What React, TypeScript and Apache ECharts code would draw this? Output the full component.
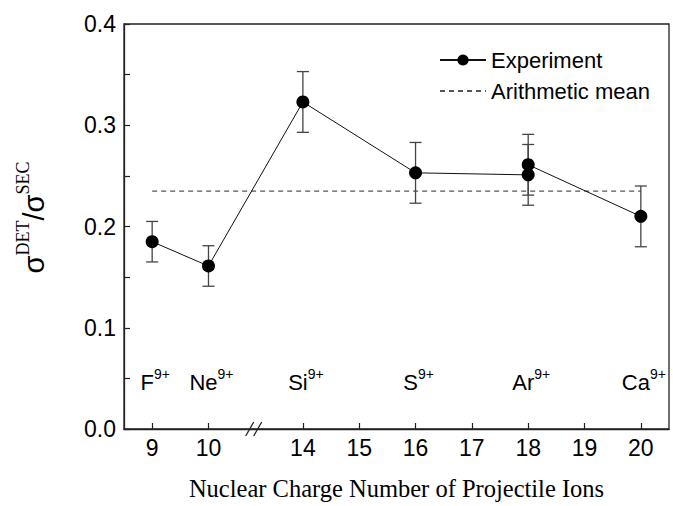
import React, { useEffect, useRef } from "react";
import * as echarts from "echarts";

// Nuclear charge numbers (x) and measured ratios
const ions = ["F", "Ne", "Si", "S", "Ar", "Ar", "Ca"];
const charges = [9, 10, 14, 16, 18, 18, 20];
const ratios = [0.185, 0.161, 0.323, 0.253, 0.251, 0.261, 0.21];
const errors = [0.02, 0.02, 0.03, 0.03, 0.03, 0.03, 0.03];
const meanValue = 0.235;
const meanRange = [9, 20];
const tickCharges = [9, 10, 14, 15, 16, 17, 18, 19, 20];
const labelIons = ["F", "Ne", "Si", "S", "Ar", "Ca"];
const labelCharges = [9, 10, 14, 16, 18, 20];
const labelLevel = 0.048;

// broken-axis mapping: 10 -> 14 squeezed into GAP units
const GAP = 1.676;
const toD = (z: number) => (z <= 10 ? z : z - 14 + 10 + GAP);
const fromD = (d: number) => {
  for (const z of tickCharges) if (Math.abs(toD(z) - d) < 1e-6) return String(z);
  return "";
};

export default function App() {
  const ref = useRef<HTMLDivElement>(null);
  useEffect(() => {
    if (!ref.current) return;
    const chart = echarts.init(ref.current, null, { renderer: "svg" });
    const sans = "Liberation Sans, Arial, sans-serif";
    const serif = "Liberation Serif, Times New Roman, serif";
    const expData = charges.map((z, i) => [toD(z), ratios[i]]);
    const errData = charges.map((z, i) => [toD(z), ratios[i], errors[i]]);
    const labData = labelCharges.map((z, i) => ({ value: [toD(z), labelLevel], name: labelIons[i] }));
    const breakCenter = (toD(10) + toD(14)) / 2;
    chart.setOption({
      animation: false,
      grid: {
        left: 124,
        right: 4,
        top: 24,
        bottom: 74,
        show: true,
        borderColor: "#222",
        borderWidth: 1.3,
      },
      legend: {
        data: [
          { name: "Experiment" },
          { name: "Arithmetic mean", itemStyle: { opacity: 0 } },
        ],
        orient: "vertical",
        left: 434,
        top: 44,
        itemGap: 9,
        itemWidth: 46,
        itemHeight: 14,
        textStyle: { fontFamily: sans, fontSize: 22, color: "#000" },
      },
      xAxis: {
        type: "value",
        min: 8.5,
        max: toD(20) + 0.5,
        name: "Nuclear Charge Number of Projectile Ions",
        nameLocation: "middle",
        nameGap: 47,
        nameTextStyle: { fontFamily: serif, fontSize: 24.5, color: "#000" },
        axisLine: { lineStyle: { color: "#222", width: 1.3 } },
        axisTick: {
          inside: true,
          length: 6,
          customValues: tickCharges.map(toD),
          lineStyle: { color: "#222", width: 1.2 },
        },
        axisLabel: {
          customValues: tickCharges.map(toD),
          formatter: (v: number) => fromD(v),
          fontFamily: sans,
          fontSize: 23,
          color: "#000",
          margin: 7,
        },
        splitLine: { show: false },
      },
      yAxis: {
        type: "value",
        min: 0,
        max: 0.4,
        interval: 0.1,
        name: "{s|σ}{sup|DET}{s|/σ}{sup|SEC}",
        nameLocation: "middle",
        nameGap: 76,
        nameRotate: 90,
        nameTextStyle: {
          padding: [0, 0, 0, 18],
          rich: {
            s: { fontFamily: sans, fontSize: 29, color: "#000", verticalAlign: "bottom", lineHeight: 34 },
            sup: { fontFamily: serif, fontSize: 18, color: "#000", verticalAlign: "top", lineHeight: 34 },
          },
        },
        axisLine: { lineStyle: { color: "#222", width: 1.3 } },
        axisTick: { inside: true, length: 6, lineStyle: { color: "#222", width: 1.2 } },
        minorTick: { show: true, splitNumber: 2, length: 6, lineStyle: { color: "#222", width: 1.2 } },
        axisLabel: {
          formatter: (v: number) => v.toFixed(1),
          fontFamily: sans,
          fontSize: 23,
          color: "#000",
          margin: 8,
        },
        splitLine: { show: false },
      },
      series: [
        {
          name: "Arithmetic mean",
          type: "line",
          data: meanRange.map((z) => [toD(z), meanValue]),
          symbol: "none",
          lineStyle: { color: "#555", width: 1.3, type: [5, 4] },
          itemStyle: { color: "#555" },
          z: 1,
        },
        {
          name: "errors",
          type: "custom",
          data: errData,
          encode: { x: 0, y: 1 },
          z: 2,
          renderItem: (params: any, api: any) => {
            const x = api.value(0);
            const y = api.value(1);
            const e = api.value(2);
            const t = api.coord([x, y + e]);
            const b = api.coord([x, y - e]);
            const w = 6;
            const st = { stroke: "#444", lineWidth: 1.3 };
            return {
              type: "group",
              children: [
                { type: "line", shape: { x1: t[0], y1: t[1], x2: b[0], y2: b[1] }, style: st },
                { type: "line", shape: { x1: t[0] - w, y1: t[1], x2: t[0] + w, y2: t[1] }, style: st },
                { type: "line", shape: { x1: b[0] - w, y1: b[1], x2: b[0] + w, y2: b[1] }, style: st },
              ],
            };
          },
        },
        {
          name: "Experiment",
          type: "line",
          data: expData,
          symbol: "circle",
          symbolSize: 13,
          lineStyle: { color: "#111", width: 1 },
          itemStyle: { color: "#000" },
          z: 3,
        },
        {
          name: "ionLabels",
          type: "scatter",
          data: labData,
          symbolSize: 0,
          silent: true,
          itemStyle: { opacity: 1, color: "#000" },
          label: {
            show: true,
            position: "inside",
            color: "#000",
            opacity: 1,
            textBorderWidth: 0,
            offset: [3, 0],
            formatter: (p: any) => `{b|${p.name}}{sup|9+}`,
            rich: {
              b: { fontFamily: sans, fontSize: 22, color: "#000", verticalAlign: "bottom", lineHeight: 26 },
              sup: { fontFamily: sans, fontSize: 14, color: "#000", verticalAlign: "top", lineHeight: 26 },
            },
          },
        },
        {
          name: "break",
          type: "custom",
          data: [[breakCenter, 0]],
          encode: { x: 0, y: 1 },
          z: 5,
          renderItem: (params: any, api: any) => {
            const c = api.coord([api.value(0), api.value(1)]);
            const st = { stroke: "#222", lineWidth: 1.3 };
            return {
              type: "group",
              children: [
                { type: "line", shape: { x1: c[0] - 10, y1: c[1] + 7, x2: c[0] - 2, y2: c[1] - 7 }, style: st },
                { type: "line", shape: { x1: c[0] - 2, y1: c[1] + 7, x2: c[0] + 6, y2: c[1] - 7 }, style: st },
              ],
            };
          },
        },
      ],
    });
    return () => chart.dispose();
  }, []);
  return <div ref={ref} style={{ width: 673, height: 506, position: "absolute", left: 0, top: 0 }} />;
}
